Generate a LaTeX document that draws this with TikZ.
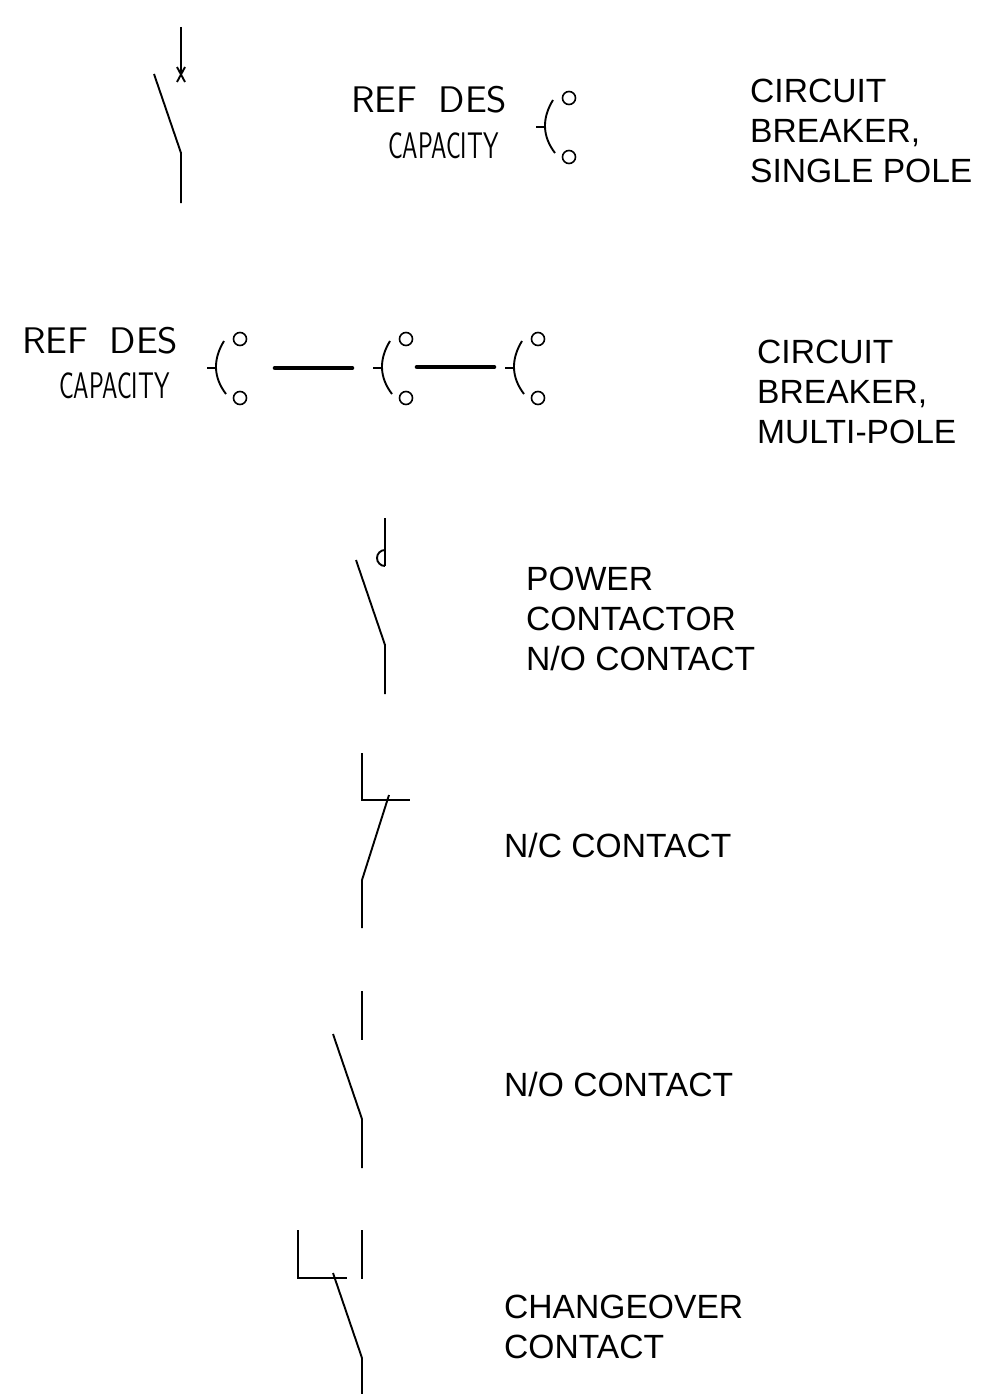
\documentclass[tikz,border=0pt]{standalone}
\usepackage{fontspec}
\setmainfont{Liberation Sans}
\newfontfamily\cadfont{Latin Modern Sans}
\tikzset{
  wire/.style={line width=1.9pt,black},
  thick bar/.style={line width=4.6pt,black,line cap=round},
  term/.style={circle,draw=black,line width=1.6pt,minimum size=13pt,inner sep=0pt},
  lbl/.style={font=\fontsize{33.6}{40}\selectfont,align=left,anchor=north west,inner sep=0pt,black},
  refdes/.style={font=\cadfont\fontsize{37}{37}\selectfont,inner sep=0pt,anchor=base west,xscale=1.05},
  capac/.style={font=\cadfont\fontsize{37}{37}\selectfont,inner sep=0pt,anchor=base west,xscale=.667}
}
\newcommand{\brk}[3]{%
  \node[term] (#3t) at (#1+24,#2-29) {};
  \node[term] (#3b) at (#1+24,#2+30) {};
  \coordinate (#3a) at (#1+8,#2-27);
  \coordinate (#3c) at (#1+10,#2+26);
  \coordinate (#3m) at (#1,#2);
  \coordinate (#3h) at (#1-9,#2);
  \draw[wire] (#3a) .. controls (#1-3,#2-9) and (#1-3,#2+9) .. (#3c);
  \draw[wire] (#3h) -- (#3m);
}
\begin{document}
\begin{tikzpicture}[x=1pt,y=-1pt]
\useasboundingbox (0,0) rectangle (980,1394);
% single pole breaker
\coordinate (a1) at (181,27);
\coordinate (a2) at (181,75);
\coordinate (a3) at (154,74);
\coordinate (a4) at (181,153);
\coordinate (a5) at (181,203);
\draw[wire] (a1) -- (a2);
\draw[wire] (177,67) -- (185,82);
\draw[wire] (185,67) -- (177,82);
\draw[wire] (a3) -- (a4) -- (a5);
\node[refdes] (rd1) at (351,113) {REF\hspace{.55em}DES};
\node[capac] (cp1) at (388,158) {CAPACITY};
\brk{545}{127}{s}
\node[lbl] (l1) at (750,79) {CIRCUIT\\BREAKER,\\SINGLE POLE};
% multi pole
\node[refdes] (rd2) at (22,353) {REF\hspace{.55em}DES};
\node[capac] (cp2) at (59,398) {CAPACITY};
\brk{216}{368}{m}
\brk{382}{368}{n}
\brk{514}{368}{o}
\draw[thick bar] (275,368) -- (352,368);
\draw[thick bar] (417,367) -- (494,367);
\node[lbl] (l2) at (757,340) {CIRCUIT\\BREAKER,\\MULTI-POLE};
% power contactor
\coordinate (b1) at (385,518);
\coordinate (b2) at (385,566);
\coordinate (b3) at (356,560);
\coordinate (b4) at (385,645);
\coordinate (b5) at (385,694);
\draw[wire] (b1) -- (b2);
\draw[wire] (385,550) arc[start angle=270,end angle=90,radius=8];
\draw[wire] (b3) -- (b4) -- (b5);
\node[lbl] (l3) at (526,567) {POWER\\CONTACTOR\\N/O CONTACT};
% N/C
\coordinate (c1) at (362,753);
\coordinate (c2) at (362,800);
\coordinate (c3) at (410,800);
\coordinate (c4) at (389,795);
\coordinate (c5) at (362,880);
\coordinate (c6) at (362,928);
\draw[wire] (c1) -- (c2) -- (c3);
\draw[wire] (c4) -- (c5) -- (c6);
\node[lbl] (l4) at (504,832.5) {N/C CONTACT};
% N/O
\coordinate (d1) at (362,991);
\coordinate (d2) at (362,1040);
\coordinate (d3) at (333,1034);
\coordinate (d4) at (362,1119);
\coordinate (d5) at (362,1168);
\draw[wire] (d1) -- (d2);
\draw[wire] (d3) -- (d4) -- (d5);
\node[lbl] (l5) at (504,1071.5) {N/O CONTACT};
% changeover
\coordinate (e1) at (298,1230);
\coordinate (e2) at (298,1278);
\coordinate (e3) at (347,1278);
\coordinate (e4) at (362,1230);
\coordinate (e5) at (362,1279);
\coordinate (e6) at (333,1273);
\coordinate (e7) at (362,1358);
\coordinate (e8) at (362,1394);
\draw[wire] (e1) -- (e2) -- (e3);
\draw[wire] (e4) -- (e5);
\draw[wire] (e6) -- (e7) -- (e8);
\node[lbl] (l6) at (504,1295) {CHANGEOVER\\CONTACT};
\end{tikzpicture}
\end{document}
